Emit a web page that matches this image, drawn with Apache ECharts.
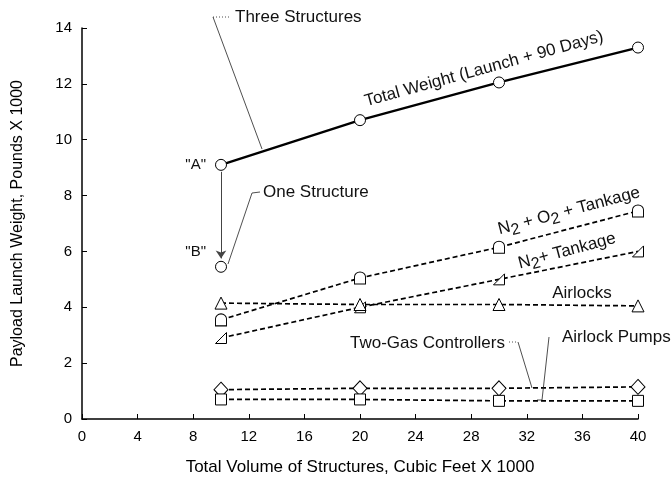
<!DOCTYPE html>
<html>
<head>
<meta charset="utf-8">
<script src="https://cdn.jsdelivr.net/npm/echarts@6/dist/echarts.min.js"></script>
<style>
  html, body { margin: 0; padding: 0; background: #fff; }
  #chart { width: 672px; height: 481px; }
</style>
</head>
<body>
<div id="chart"></div>
<script>
  // data (x: cubic feet x 1000, y: pounds x 1000)
  const volumes = [10, 20, 30, 40];
  const totalWeight = [9.1, 10.7, 12.05, 13.3];
  const oneStructure = [5.45];
  const n2o2Tankage = [3.55, 5.05, 6.15, 7.45];
  const n2Tankage = [2.9, 4.0, 5.0, 6.0];
  const airlocks = [4.15, 4.1, 4.1, 4.05];
  const twoGasControllers = [1.05, 1.1, 1.1, 1.15];
  const airlockPumps = [0.7, 0.7, 0.65, 0.65];
  const xTicks = [0, 4, 8, 12, 16, 20, 24, 28, 32, 36, 40];
  const yTicks = [0, 2, 4, 6, 8, 10, 12, 14];

  const font = 'Liberation Sans';
  const houseSymbol = 'path://M0,12 L0,5 A5,5 0 0 1 10,5 L10,12 Z';
  const rightTriSymbol = 'path://M0,10 L10,0 L10,10 Z';

  const pair = (ys) => ys.map((y, i) => [volumes[i], y]);

  const dashed = (name, ys, symbol, size) => ({
    name: name,
    type: 'line',
    data: pair(ys),
    symbol: symbol,
    symbolSize: size,
    showAllSymbol: true,
    lineStyle: { color: '#000', width: 1.7, type: [5, 3] },
    itemStyle: { color: '#fff', borderColor: '#000', borderWidth: 1 },
    z: 3
  });

  const chart = echarts.init(document.getElementById('chart'));

  const option = {
    animation: false,
    backgroundColor: '#fff',
    textStyle: { fontFamily: font },
    grid: { left: 82, right: 34, top: 28, bottom: 59 },
    xAxis: {
      type: 'value',
      min: xTicks[0],
      max: xTicks[xTicks.length - 1],
      interval: 4,
      name: 'Total Volume of Structures, Cubic Feet X 1000',
      nameLocation: 'middle',
      nameGap: 40,
      nameTextStyle: { color: '#000', fontSize: 17, fontFamily: font },
      axisLine: { lineStyle: { color: '#000', width: 1.5 } },
      axisTick: { inside: true, length: 5, lineStyle: { color: '#000' } },
      axisLabel: { color: '#000', fontSize: 15, fontFamily: font, margin: 10 },
      splitLine: { show: false }
    },
    yAxis: {
      type: 'value',
      min: yTicks[0],
      max: yTicks[yTicks.length - 1],
      interval: 2,
      name: 'Payload Launch Weight, Pounds X 1000',
      nameLocation: 'middle',
      nameGap: 56,
      nameTextStyle: { color: '#000', fontSize: 16, fontFamily: font },
      axisLine: { show: true, lineStyle: { color: '#000', width: 1.5 } },
      axisTick: { show: true, inside: true, length: 5, lineStyle: { color: '#000' } },
      axisLabel: { color: '#000', fontSize: 15, fontFamily: font, margin: 10 },
      splitLine: { show: false }
    },
    series: [
      {
        name: 'Total Weight (Launch + 90 Days)',
        type: 'line',
        data: pair(totalWeight),
        symbol: 'circle',
        symbolSize: 11,
        showAllSymbol: true,
        lineStyle: { color: '#000', width: 2.4 },
        itemStyle: { color: '#fff', borderColor: '#000', borderWidth: 1 },
        z: 3
      },
      {
        name: 'One Structure',
        type: 'line',
        data: [[volumes[0], oneStructure[0]]],
        symbol: 'circle',
        symbolSize: 11,
        itemStyle: { color: '#fff', borderColor: '#000', borderWidth: 1 },
        markLine: {
          silent: true,
          symbol: ['none', 'arrow'],
          symbolSize: 8,
          label: { show: false },
          lineStyle: { color: '#444', width: 1, type: 'solid' },
          data: [[{ coord: [volumes[0], totalWeight[0] - 0.25] }, { coord: [volumes[0], oneStructure[0] + 0.3] }]]
        },
        z: 3
      },
      dashed('N2 + O2 + Tankage', n2o2Tankage, houseSymbol, [11, 12]),
      dashed('N2 + Tankage', n2Tankage, rightTriSymbol, 11),
      dashed('Airlocks', airlocks, 'triangle', 12),
      dashed('Two-Gas Controllers', twoGasControllers, 'diamond', [14, 15]),
      dashed('Airlock Pumps', airlockPumps, 'rect', 11)
    ]
  };

  chart.setOption(option);

  // annotations
  const txt = (text, x, y, extra, rot) => ({
    type: 'text', x: x, y: y, z: 10, rotation: rot || 0,
    style: Object.assign({
      text: text, fill: '#111', fontSize: 17, fontFamily: font,
      textAlign: 'left', textVerticalAlign: 'middle'
    }, extra || {})
  });
  const leader = (points, dash) => ({
    type: 'polyline', z: 9,
    shape: { points: points },
    style: { stroke: '#222', lineWidth: 0.8, lineDash: dash || null, fill: null }
  });
  const subRich = {
    n: { fontSize: 17, fontFamily: font, fill: '#111', lineHeight: 22 },
    s: { fontSize: 16, fontFamily: font, fill: '#111', lineHeight: 22, padding: [9, 0, 0, 0] }
  };

  chart.setOption({
    graphic: [
      txt('Three Structures', 235, 17),
      leader([[213, 17], [231, 17]], [1, 2]),
      leader([[213, 17], [262, 149]]),
      txt('One Structure', 263, 192),
      leader([[260, 192], [252, 193], [228, 264]]),
      txt('"A"', 206, 165, { textAlign: 'right', fontSize: 15 }),
      txt('"B"', 206, 252, { textAlign: 'right', fontSize: 15 }),
      txt('Total Weight (Launch + 90 Days)', 484, 69, { textAlign: 'center' }, 0.268),
      txt('{n|N}{s|2}{n| + O}{s|2}{n| + Tankage}', 569, 211, { rich: subRich, textAlign: 'center' }, 0.26),
      txt('{n|N}{s|2}{n|+ Tankage}', 567, 251, { rich: subRich, textAlign: 'center' }, 0.26),
      txt('Airlocks', 582, 293, { textAlign: 'center' }),
      txt('Two-Gas Controllers', 350, 343),
      leader([[509, 342], [518, 342]], [1, 2]),
      leader([[518, 342], [532, 388]]),
      txt('Airlock Pumps', 562, 337),
      leader([[549, 337], [542, 400], [537, 400]])
    ]
  });
</script>
</body>
</html>
